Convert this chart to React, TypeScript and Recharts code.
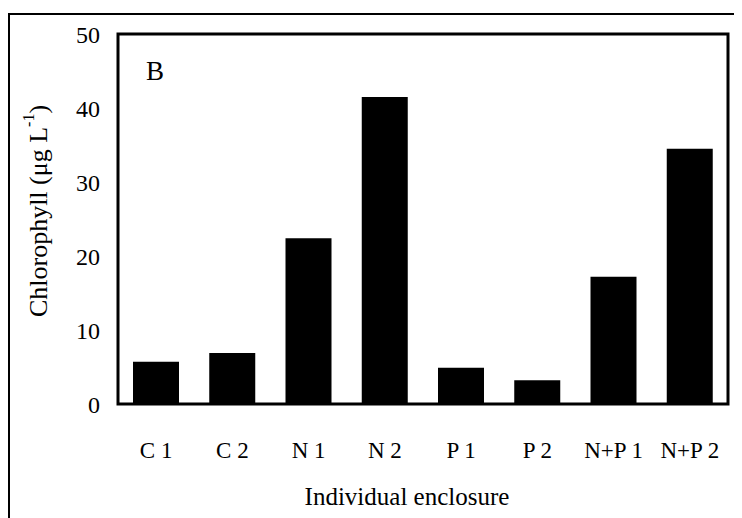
import React from "react";
import { BarChart, Bar, XAxis, YAxis, ReferenceArea, Label } from "recharts";

const categories = ["C 1", "C 2", "N 1", "N 2", "P 1", "P 2", "N+P 1", "N+P 2"];
const chlorophyll = [5.7, 6.9, 22.4, 41.5, 4.9, 3.2, 17.2, 34.5];
const yTicks = [0, 10, 20, 30, 40, 50];

const data = categories.map((c, i) => ({ name: c, value: chlorophyll[i] }));

const FONT = "'Liberation Serif', 'Times New Roman', serif";

const YLabel = (props: any) => {
  const vb = props.viewBox || {};
  const cx = 30;
  const cy = (vb.y ?? 26) + (vb.height ?? 370) / 2 - 8;
  return (
    <text
      x={cx}
      y={cy}
      transform={`rotate(-90, ${cx}, ${cy})`}
      textAnchor="middle"
      dominantBaseline="central"
      fontFamily={FONT}
      fontSize={26}
      fill="#000"
    >
      Chlorophyll (μg L
      <tspan fontSize={16} dy={-10}>-1</tspan>
      <tspan dy={10}>)</tspan>
    </text>
  );
};

export default function App() {
  return (
    <div style={{ position: "relative", width: 734, height: 510, overflow: "hidden", background: "#fff" }}>
      <div
        style={{
          position: "absolute",
          left: 0,
          top: 5,
          width: 760,
          height: 540,
          borderTop: "2px solid #000",
          borderLeft: "2px solid #000",
          boxSizing: "border-box",
          pointerEvents: "none",
        }}
      />
      <BarChart
        width={734}
        height={510}
        data={data}
        margin={{ top: 26, right: 14, left: 0, bottom: 0 }}
        barCategoryGap={0}
        style={{ position: "absolute", left: 0, top: 0 }}
      >
        <XAxis
          dataKey="name"
          height={114}
          axisLine={false}
          tickLine={false}
          tickSize={0}
          tickMargin={38}
          interval={0}
          tick={{ fontFamily: FONT, fontSize: 23, fill: "#000" }}
        >
          <Label
            content={(p: any) => (
              <text x={399} y={497} textAnchor="middle" fontFamily={FONT} fontSize={25} fill="#000">
                Individual enclosure
              </text>
            )}
          />
        </XAxis>
        <YAxis
          width={110}
          domain={[0, 50]}
          ticks={yTicks}
          axisLine={false}
          tickLine={false}
          tickSize={0}
          tickMargin={18}
          tick={{ fontFamily: FONT, fontSize: 24, fill: "#000" }}
        >
          <Label content={<YLabel />} />
        </YAxis>
        <Bar dataKey="value" fill="#000" barSize={46} isAnimationActive={false} />
        <ReferenceArea y1={0} y2={50} fill="none" stroke="#000" strokeWidth={3} ifOverflow="visible" />
        <text x={138} y={72} fontFamily={FONT} fontSize={27} fill="#000">B</text>
      </BarChart>
    </div>
  );
}
